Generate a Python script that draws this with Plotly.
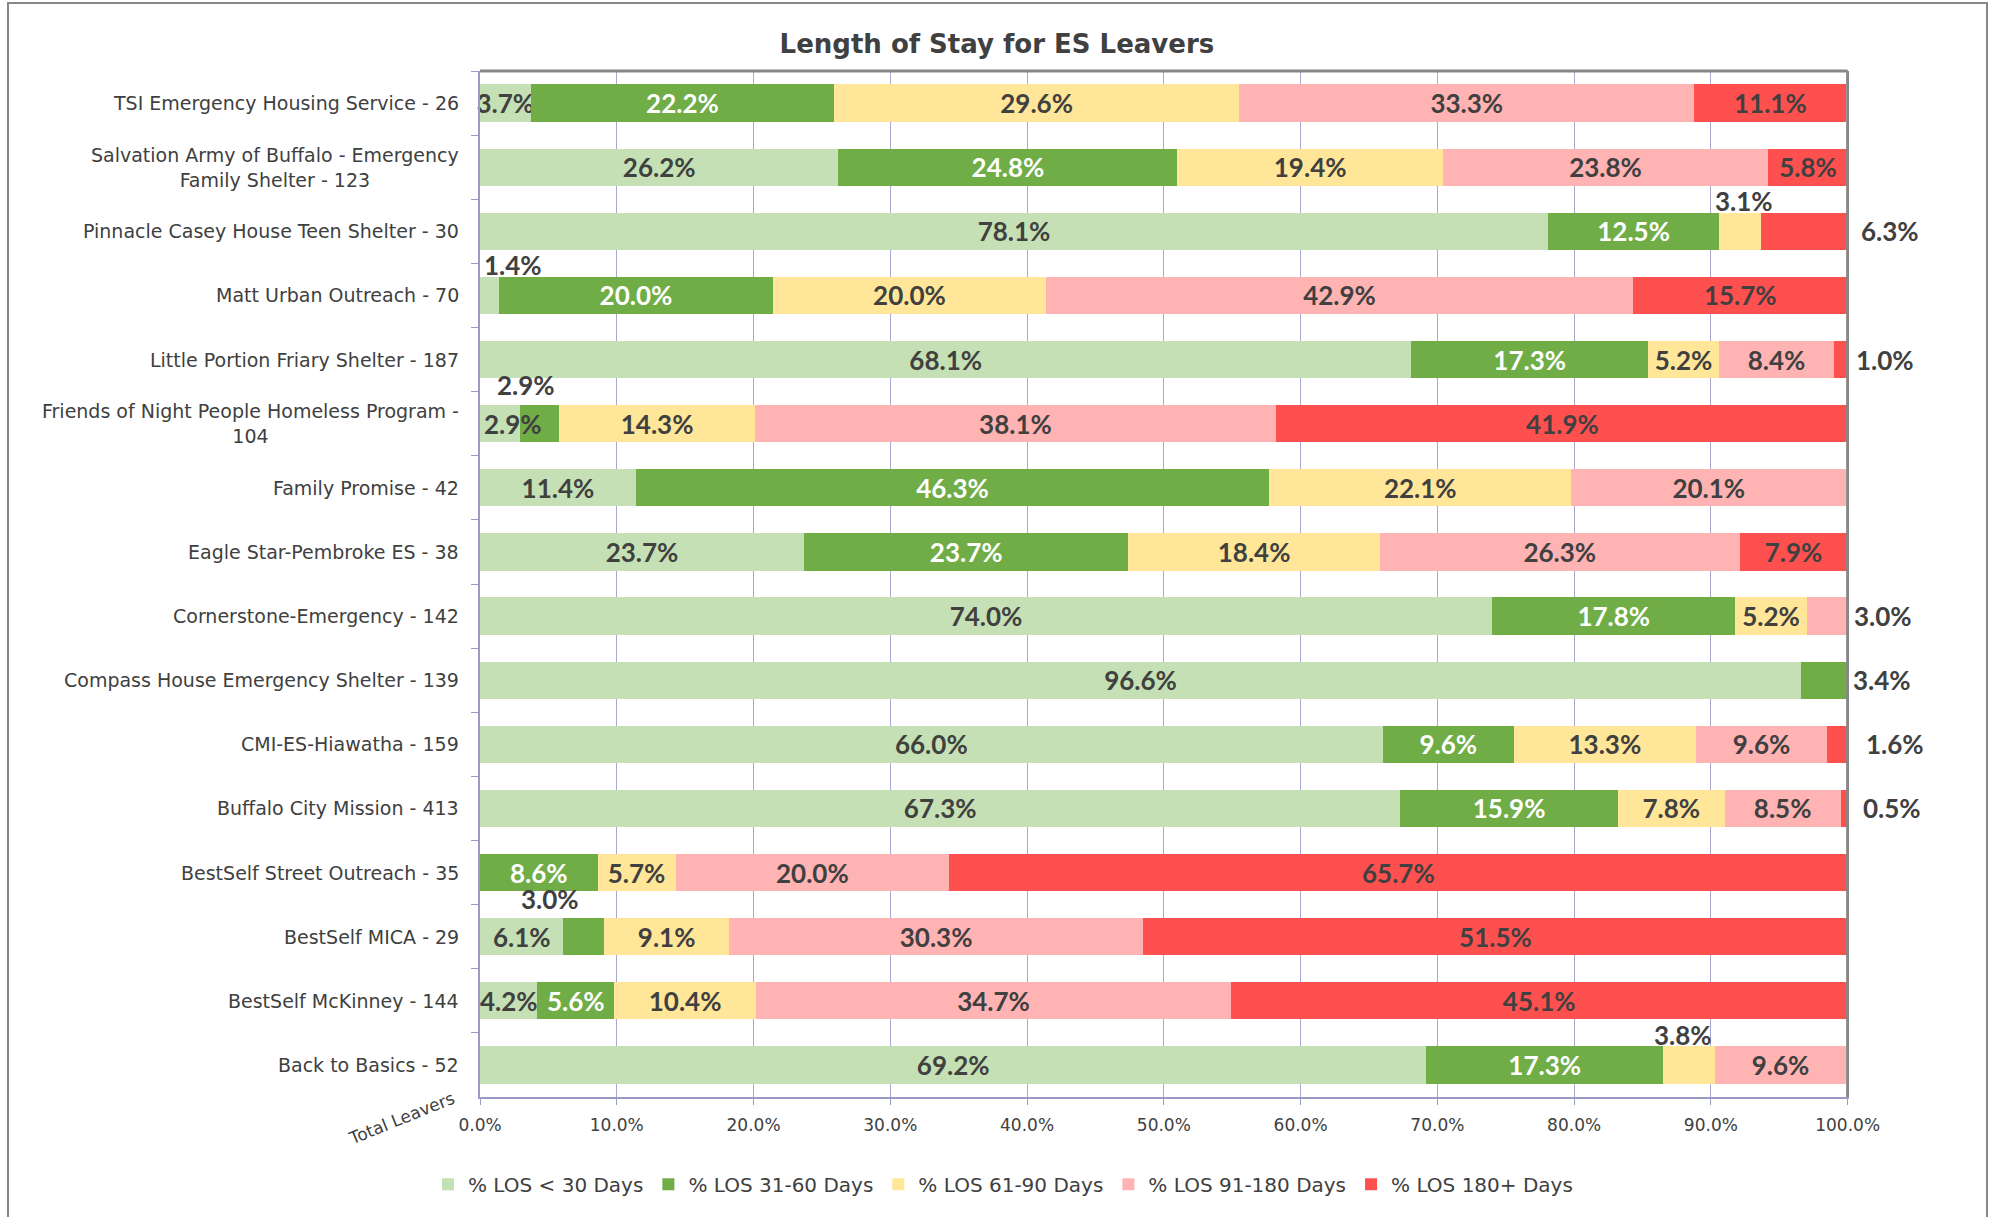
import plotly.graph_objects as go

# ---------------- data ----------------
programs = [
    "TSI Emergency Housing Service - 26",
    "Salvation Army of Buffalo - Emergency<br>Family Shelter - 123",
    "Pinnacle Casey House Teen Shelter - 30",
    "Matt Urban Outreach - 70",
    "Little Portion Friary Shelter - 187",
    "Friends of Night People Homeless Program -<br>104",
    "Family Promise - 42",
    "Eagle Star-Pembroke ES - 38",
    "Cornerstone-Emergency - 142",
    "Compass House Emergency Shelter - 139",
    "CMI-ES-Hiawatha - 159",
    "Buffalo City Mission - 413",
    "BestSelf Street Outreach - 35",
    "BestSelf MICA - 29",
    "BestSelf McKinney - 144",
    "Back to Basics - 52",
]
series_names = ["% LOS < 30 Days", "% LOS 31-60 Days", "% LOS 61-90 Days",
                "% LOS 91-180 Days", "% LOS 180+ Days"]

los_lt30 = [3.7, 26.2, 78.1, 1.4, 68.1, 2.9, 11.4, 23.7, 74.0, 96.6, 66.0, 67.3, 0.0, 6.1, 4.2, 69.2]
los_31_60 = [22.2, 24.8, 12.5, 20.0, 17.3, 2.9, 46.3, 23.7, 17.8, 3.4, 9.6, 15.9, 8.6, 3.0, 5.6, 17.3]
los_61_90 = [29.6, 19.4, 3.1, 20.0, 5.2, 14.3, 22.1, 18.4, 5.2, 0.0, 13.3, 7.8, 5.7, 9.1, 10.4, 3.8]
los_91_180 = [33.3, 23.8, 0.0, 42.9, 8.4, 38.1, 20.1, 26.3, 3.0, 0.0, 9.6, 8.5, 20.0, 30.3, 34.7, 9.6]
los_180p = [11.1, 5.8, 6.3, 15.7, 1.0, 41.9, 0.0, 7.9, 0.0, 0.0, 1.6, 0.5, 65.7, 51.5, 45.1, 0.0]

x_ticks = [0, 10, 20, 30, 40, 50, 60, 70, 80, 90, 100]

# ---------------- styling ----------------
series_values = [los_lt30, los_31_60, los_61_90, los_91_180, los_180p]
colors = ["#C5E0B4", "#70AD47", "#FFE699", "#FFB3B3", "#FF5050"]
label_colors = ["#404040", "#FFFFFF", "#404040", "#404040", "#404040"]

# labels that Excel moved away from the segment centre: (row, series, mode, xshift, yshift)
moved_labels = [
    (2, 2, "center", 4, 30),
    (2, 4, "right", 11, 0),
    (3, 0, "center", 23, 30),
    (4, 4, "right", 6, 0),
    (5, 0, "center", 13, 0),
    (5, 1, "center", -13, 39),
    (8, 3, "right", 4, 0),
    (9, 1, "right", 3, 0),
    (10, 4, "right", 15, 0),
    (11, 4, "right", 13, 0),
    (13, 1, "center", -34, 38),
    (15, 2, "center", -6, 30),
]
moved_set = {(r, s) for r, s, *_ in moved_labels}

cats = [p.replace("<br>", " ") for p in programs]

LABEL_FONT = "Lato"
TEXT_FONT = "DejaVu Sans"
DARK = "#404040"
GRID = "#A9A9CF"
AXIS = "#9A9AC4"
BORDER = "#878787"
XMAX = 100.1  # a couple of rows add up to 100.1 %

fig = go.Figure()
for s, (name, vals) in enumerate(zip(series_names, series_values)):
    texts = []
    for r, v in enumerate(vals):
        if v > 0 and (r, s) not in moved_set:
            texts.append(f"{v:.1f}%")
        else:
            texts.append("")
    fig.add_trace(go.Bar(
        y=cats, x=vals, name=name, orientation="h",
        marker=dict(color=colors[s], line=dict(width=0)),
        text=texts, textposition="inside", insidetextanchor="middle",
        textangle=0, constraintext="none",
        textfont=dict(family=LABEL_FONT, size=26, color=label_colors[s], weight="bold"),
        cliponaxis=False, hoverinfo="x+y+name",
    ))

annotations = []
for r, s, mode, dx, dy in moved_labels:
    start = sum(series_values[k][r] for k in range(s))
    v = series_values[s][r]
    if mode == "center":
        ax, anchor = start + v / 2, "center"
        inside = dy == 0
    else:
        ax, anchor = sum(series_values[k][r] for k in range(5)), "left"
        inside = False
    annotations.append(dict(
        x=ax, y=cats[r], xref="x", yref="y", text=f"{v:.1f}%", showarrow=False,
        xanchor=anchor, yanchor="middle", xshift=dx, yshift=dy,
        font=dict(family=LABEL_FONT, size=26,
                  color=label_colors[s] if inside else DARK, weight="bold"),
    ))

# category labels (centered multi-line like the original)
for p, c in zip(programs, cats):
    annotations.append(dict(
        x=0, y=c, xref="paper", yref="y", text=p, showarrow=False,
        xanchor="right", yanchor="middle", align="center", xshift=-19,
        font=dict(family=TEXT_FONT, size=19, color=DARK),
    ))

annotations.append(dict(
    x=-0.057, y=-0.02, xref="paper", yref="paper", text="Total Leavers",
    showarrow=False, textangle=-22, xanchor="center", yanchor="middle",
    font=dict(family=TEXT_FONT, size=17, color=DARK),
))

shapes = [
    # gray top / right plot border
    dict(type="line", xref="x", yref="paper", x0=0, x1=100, y0=1, y1=1,
         line=dict(color=BORDER, width=3), layer="above"),
    dict(type="line", xref="x", yref="paper", x0=100, x1=100, y0=0, y1=1,
         line=dict(color=BORDER, width=3), layer="above"),
    # outer chart frame
    dict(type="rect", xref="paper", yref="paper",
         x0=(8 - 480) / 1369, x1=(1987 - 480) / 1369,
         y0=(1097 - 1235) / 1026, y1=(1097 - 3) / 1026,
         line=dict(color=BORDER, width=2), fillcolor="rgba(0,0,0,0)", layer="below"),
]

fig.update_layout(
    width=1995, height=1217,
    margin=dict(l=480, r=146, t=71, b=120),
    paper_bgcolor="white", plot_bgcolor="white",
    barmode="stack", bargap=0.42,
    title=dict(text="<b>Length of Stay for ES Leavers</b>", x=0.4997, xanchor="center",
               y=1 - 44 / 1217, yanchor="middle", yref="container",
               font=dict(family=TEXT_FONT, size=26, color=DARK)),
    xaxis=dict(range=[0, XMAX], autorange=False,
               tickvals=x_ticks, ticktext=[f"{t:.1f}%" for t in x_ticks],
               showgrid=True, gridcolor=GRID, gridwidth=1,
               showline=True, linecolor=AXIS, linewidth=2,
               ticks="outside", ticklen=6, tickcolor=AXIS, tickwidth=1,
               ticklabelstandoff=6, zeroline=False,
               tickfont=dict(family=TEXT_FONT, size=17, color=DARK)),
    yaxis=dict(categoryorder="array", categoryarray=cats,
               range=[len(cats) - 0.5, -0.5], autorange=False,
               showticklabels=False, showgrid=False,
               showline=True, linecolor=AXIS, linewidth=2,
               ticks="outside", tickson="boundaries", ticklen=7, tickcolor=AXIS),
    legend=dict(orientation="h", x=0.382, xanchor="center", y=-0.085, yanchor="middle",
                font=dict(family=TEXT_FONT, size=20, color=DARK), traceorder="normal",
                itemwidth=30),
    annotations=annotations, shapes=shapes,
    showlegend=True,
)

fig.write_html("out.html", config={"displayModeBar": False},
               post_script="document.body.style.margin='0';")
